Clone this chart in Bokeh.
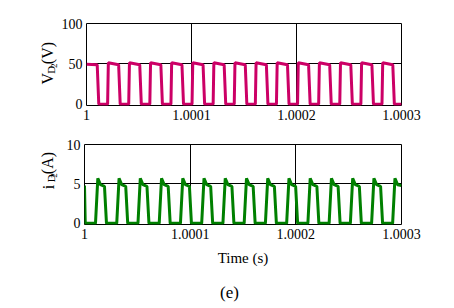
import math
from bokeh.plotting import figure
from bokeh.layouts import column, row
from bokeh.models import Range1d, FixedTicker, NumeralTickFormatter, Label
from bokeh.embed import file_html
from bokeh.resources import INLINE

# time in microseconds after t = 1 s
t_v = [0, 10.2, 11.7,
       20.1, 20.8, 30.6, 32.1,
       40.2, 40.9, 50.7, 52.2,
       60.3, 61.0, 70.8, 72.3,
       80.4, 81.1, 90.9, 92.4,
       100.5, 101.2, 111.0, 112.5,
       120.6, 121.3, 131.1, 132.6,
       140.7, 141.4, 151.2, 152.7,
       160.8, 161.5, 171.3, 172.8,
       180.9, 181.6, 191.4, 192.9,
       201.0, 201.7, 211.5, 213.0,
       221.1, 221.8, 231.6, 233.1,
       241.2, 241.9, 251.7, 253.2,
       261.3, 262.0, 271.8, 273.3,
       281.4, 282.1, 291.7, 293.2,
       300.0]
v_d2 = [49.5, 49.0, 0,
        0, 51.5, 49.0, 0,
        0, 51.5, 49.0, 0,
        0, 51.5, 49.0, 0,
        0, 51.5, 49.0, 0,
        0, 51.5, 49.0, 0,
        0, 51.5, 49.0, 0,
        0, 51.5, 49.0, 0,
        0, 51.5, 49.0, 0,
        0, 51.5, 49.0, 0,
        0, 51.5, 49.0, 0,
        0, 51.5, 49.0, 0,
        0, 51.5, 49.0, 0,
        0, 51.5, 49.0, 0,
        0, 51.5, 49.0, 0,
        0]

t_i = [0, 0.7,
       10.4, 12.6, 15.1, 18.9, 20.8,
       30.5, 32.7, 35.2, 39.0, 40.9,
       50.6, 52.8, 55.3, 59.1, 61.0,
       70.7, 72.9, 75.4, 79.2, 81.1,
       90.8, 93.0, 95.5, 99.3, 101.2,
       110.9, 113.1, 115.6, 119.4, 121.3,
       131.0, 133.2, 135.7, 139.5, 141.4,
       151.1, 153.3, 155.8, 159.6, 161.5,
       171.2, 173.4, 175.9, 179.7, 181.6,
       191.3, 193.5, 196.0, 199.8, 201.7,
       211.4, 213.6, 216.1, 219.9, 221.8,
       231.5, 233.7, 236.2, 240.0, 241.9,
       251.6, 253.8, 256.3, 260.1, 262.0,
       271.7, 273.9, 276.4, 280.2, 282.1,
       291.6, 293.8, 296.3, 300.0]
i_d2 = [4.8, 0,
        0, 5.7, 4.9, 4.7, 0,
        0, 5.7, 4.9, 4.7, 0,
        0, 5.7, 4.9, 4.7, 0,
        0, 5.7, 4.9, 4.7, 0,
        0, 5.7, 4.9, 4.7, 0,
        0, 5.7, 4.9, 4.7, 0,
        0, 5.7, 4.9, 4.7, 0,
        0, 5.7, 4.9, 4.7, 0,
        0, 5.7, 4.9, 4.7, 0,
        0, 5.7, 4.9, 4.7, 0,
        0, 5.7, 4.9, 4.7, 0,
        0, 5.7, 4.9, 4.7, 0,
        0, 5.7, 4.9, 4.7, 0,
        0, 5.7, 4.9, 4.7, 0,
        0, 5.7, 4.9, 4.8]

x_ticks = [1, 1.0001, 1.0002, 1.0003]
x_grid = [1.0001, 1.0002]
v_ticks = [0, 50, 100]
i_ticks = [0, 5, 10]

x_v = [1 + t * 1e-6 for t in t_v]
x_i = [1 + t * 1e-6 for t in t_i]

FONT = "Liberation Serif"
LAB_W = 58


def make_fig(height, top, bottom, yticks, ystart, yend):
    p = figure(width=454 - LAB_W, height=height, output_backend="svg", toolbar_location=None,
               x_range=Range1d(1, 1.0003), y_range=Range1d(ystart, yend),
               min_border_left=84 - LAB_W, min_border_right=53,
               min_border_top=top, min_border_bottom=bottom)
    p.outline_line_color = "black"
    p.outline_line_width = 1
    p.background_fill_color = "white"
    p.border_fill_color = "white"
    for ax in p.xaxis:
        ax.ticker = FixedTicker(ticks=x_ticks)
        ax.formatter = NumeralTickFormatter(format="0.[0000]")
    for ax in p.yaxis:
        ax.ticker = FixedTicker(ticks=yticks)
    for ax in list(p.xaxis) + list(p.yaxis):
        ax.axis_line_color = None
        ax.major_tick_line_color = None
        ax.minor_tick_line_color = None
        ax.major_tick_out = 0
        ax.major_tick_in = 0
        ax.minor_tick_out = 0
        ax.minor_tick_in = 0
        ax.major_label_text_font = FONT
        ax.major_label_text_font_size = "14px"
        ax.major_label_text_color = "black"
        ax.major_label_standoff = 4
    p.xgrid.ticker = FixedTicker(ticks=x_grid)
    p.ygrid.ticker = FixedTicker(ticks=[yticks[1]])
    for g in list(p.xgrid) + list(p.ygrid):
        g.grid_line_color = "black"
        g.grid_line_width = 1
        g.grid_line_alpha = 1
    return p


def blank_fig(width, height, ytop, ybottom):
    f = figure(width=width, height=height, output_backend="svg", toolbar_location=None,
               x_range=Range1d(0, width), y_range=Range1d(ybottom, ytop),
               x_axis_location=None, y_axis_location=None,
               min_border=0, min_border_left=0, min_border_right=0,
               min_border_top=0, min_border_bottom=0)
    f.outline_line_color = None
    f.grid.visible = False
    f.background_fill_color = "white"
    f.border_fill_color = "white"
    return f


def add_label(p, text, x, y, size, align="left", angle=math.pi / 2, baseline="alphabetic"):
    p.add_layout(Label(x=x, y=y, text=text, angle=angle, text_font=FONT,
                       text_font_size=size, text_color="black",
                       text_align=align, text_baseline=baseline))


# top panel
lab1 = blank_fig(LAB_W, 125, 0, 125)
add_label(lab1, "V", 47, 93, "16px")
add_label(lab1, "D", 50, 76.5, "11px")
add_label(lab1, "2", 53, 68, "9px")
add_label(lab1, "(V)", 46.5, 62, "16px")

p1 = make_fig(125, 23, 20, v_ticks, -1.5, 100)
p1.line(x_v, v_d2, line_color="#CC0066", line_width=3)

# bottom panel
lab2 = blank_fig(LAB_W, 143, 125, 268)
add_label(lab2, "i", 47.5, 205, "16px")
add_label(lab2, "D", 50, 192.5, "11px")
add_label(lab2, "2", 53, 184.5, "9px")
add_label(lab2, "(A)", 46.5, 178, "16px")

p2 = make_fig(143, 19, 43, i_ticks, -0.15, 10)
p2.line(x_i, i_d2, line_color="#008000", line_width=3)
p2.xaxis.axis_label = "Time (s)"
p2.xaxis.axis_label_text_font = FONT
p2.xaxis.axis_label_text_font_size = "15px"
p2.xaxis.axis_label_text_font_style = "normal"
p2.xaxis.axis_label_text_color = "black"
p2.xaxis.axis_label_standoff = 8

# caption
cap = blank_fig(454, 40, 268, 308)
add_label(cap, "(e)", 229, 292, "17px", align="center", angle=0, baseline="middle")

layout = column(row(lab1, p1, spacing=0), row(lab2, p2, spacing=0), cap, spacing=0)
open("out.html", "w").write(file_html(layout, INLINE))
